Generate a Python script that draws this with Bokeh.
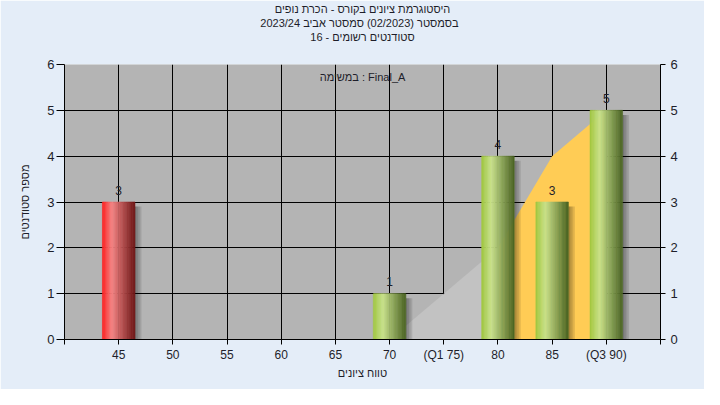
from bokeh.plotting import figure
from bokeh.models import Range1d, FixedTicker, LinearAxis, Title, Label
from bokeh.core.properties import value
from bokeh.embed import file_html
from bokeh.resources import INLINE

# ---------------- data ----------------
categories = ["45", "50", "55", "60", "65", "70", "(Q1 75)", "80", "85", "(Q3 90)"]
counts = [3, 0, 0, 0, 0, 1, 0, 4, 3, 5]
fail_flags = [True, False, False, False, False, False, False, False, False, False]
# shaded distribution area (category index, height)
area_low_idx = [5, 6, 7]
area_low_vals = [0, 1, 2]
area_high_idx = [7, 8, 9]
area_high_vals = [2, 4, 5]
y_ticks = [0, 1, 2, 3, 4, 5, 6]
title_lines = [
    "היסטוגרמת ציונים בקורס - הכרת נופים",
    "בסמסטר  (02/2023)  סמסטר אביב 2023/24",
    "סטודנטים רשומים - 16",
]
note_text = "במשימה : Final_A"
x_label = "טווח ציונים"
y_label = "מספר סטודנטים"

# ---------------- style ----------------
FONT = "Liberation Sans, DejaVu Sans, sans-serif"
BG = "#e4edf8"
FRAME = "#b4b4b4"
TXT = "#1e1e2a"
BAR_W = 0.6
LABEL_GAP = 0.26  # value-label gap above bar top, in y units


def hex2rgb(h):
    h = h.lstrip("#")
    return tuple(int(h[i:i + 2], 16) for i in (0, 2, 4))


def mix(a, b, t):
    a, b = hex2rgb(a), hex2rgb(b)
    return "#%02x%02x%02x" % tuple(int(round(a[i] + (b[i] - a[i]) * t)) for i in range(3))


def profile(t, left, hi, dark):
    if t < 0.3:
        return mix(left, hi, t / 0.3)
    return mix(hi, dark, (t - 0.3) / 0.7)


RED = ("#ff1c1c", "#f58585", "#6e1414")
GREEN = ("#9fc63e", "#c9e28c", "#4a6322")

p = figure(width=704, height=389, output_backend="svg", toolbar_location=None,
           x_range=Range1d(-1, 10), y_range=Range1d(0, 6),
           min_border_left=64, min_border_right=44, min_border_top=64, min_border_bottom=50)
p.background_fill_color = FRAME
p.border_fill_color = BG
p.outline_line_color = None

# spacer between frame and title block, then the titles (frame outwards)
p.add_layout(Title(text=" ", text_font=FONT, text_font_size="11px", standoff=8, offset=0), "above")
for line in reversed(title_lines):
    p.add_layout(Title(text=line, align="center", text_font=FONT, text_font_size="11px",
                       text_font_style="normal", text_color=TXT, standoff=0, offset=0), "above")

# axes
xax = p.xaxis[0]
xax.ticker = FixedTicker(ticks=[-1] + list(range(len(categories))) + [10])
xax.major_label_overrides = {i: c for i, c in enumerate(categories)}
xax.major_label_overrides.update({-1: "", 10: ""})
yax = p.yaxis[0]
yax.ticker = FixedTicker(ticks=y_ticks)
rax = LinearAxis(ticker=FixedTicker(ticks=y_ticks))
p.add_layout(rax, "right")

for ax in [xax, yax, rax]:
    ax.axis_line_color = "black"
    ax.major_tick_line_color = "black"
    ax.minor_tick_line_color = None
    ax.major_tick_in = 0
    ax.major_label_text_font = FONT
    ax.major_label_text_color = TXT
    ax.axis_label_text_font = FONT
    ax.axis_label_text_font_style = "normal"
    ax.axis_label_text_color = TXT
xax.major_tick_out = 5
yax.major_tick_out = 8
rax.major_tick_out = 5
xax.major_label_text_font_size = "12px"
yax.major_label_text_font_size = "13px"
rax.major_label_text_font_size = "13px"
xax.major_label_standoff = 3
yax.major_label_standoff = 2
rax.major_label_standoff = 5
xax.axis_label = x_label
yax.axis_label = y_label
xax.axis_label_text_font_size = "11px"
yax.axis_label_text_font_size = "11px"
xax.axis_label_standoff = 2
yax.axis_label_standoff = 13

p.xgrid.grid_line_color = "black"
p.ygrid.grid_line_color = "black"
p.xgrid.grid_line_alpha = 1
p.ygrid.grid_line_alpha = 1

# shaded area
p.varea(x=area_low_idx, y1=[0] * len(area_low_idx), y2=area_low_vals, fill_color="#c2c2c2")
p.varea(x=area_high_idx, y1=[0] * len(area_high_idx), y2=area_high_vals, fill_color="#ffcc55")

# bars with shadows and cylinder shading
N = 24
for i, (c, f) in enumerate(zip(counts, fail_flags)):
    if c <= 0:
        continue
    left = i - BAR_W / 2
    right = i + BAR_W / 2
    # shadow
    for k in range(4):
        p.quad(left=[right + k * 0.03], right=[right + (k + 1) * 0.03], bottom=[0], top=[c - 0.1],
               fill_color="black", fill_alpha=0.35 - k * 0.08, line_color=None)
    cols = RED if f else GREEN
    sw = BAR_W / N
    lefts = [left + k * sw for k in range(N)]
    rights = [left + (k + 1) * sw for k in range(N)]
    colors = [profile((k + 0.5) / N, *cols) for k in range(N)]
    p.quad(left=lefts, right=rights, bottom=[0] * N, top=[c] * N,
           fill_color=colors, line_color=colors, line_width=0.6)

# value labels
bx = [i for i, c in enumerate(counts) if c > 0]
by = [c for c in counts if c > 0]
p.text(x=bx, y=[v + LABEL_GAP for v in by], text=[str(v) for v in by], text_align="center",
       text_baseline="alphabetic", text_font=value(FONT), text_font_size="12px", text_color=TXT)

p.add_layout(Label(x=4.5, y=5.72, text=note_text, text_align="center", text_baseline="middle",
                   text_font=FONT, text_font_size="11px", text_color=TXT))

open("out.html", "w").write(file_html(p, INLINE))
